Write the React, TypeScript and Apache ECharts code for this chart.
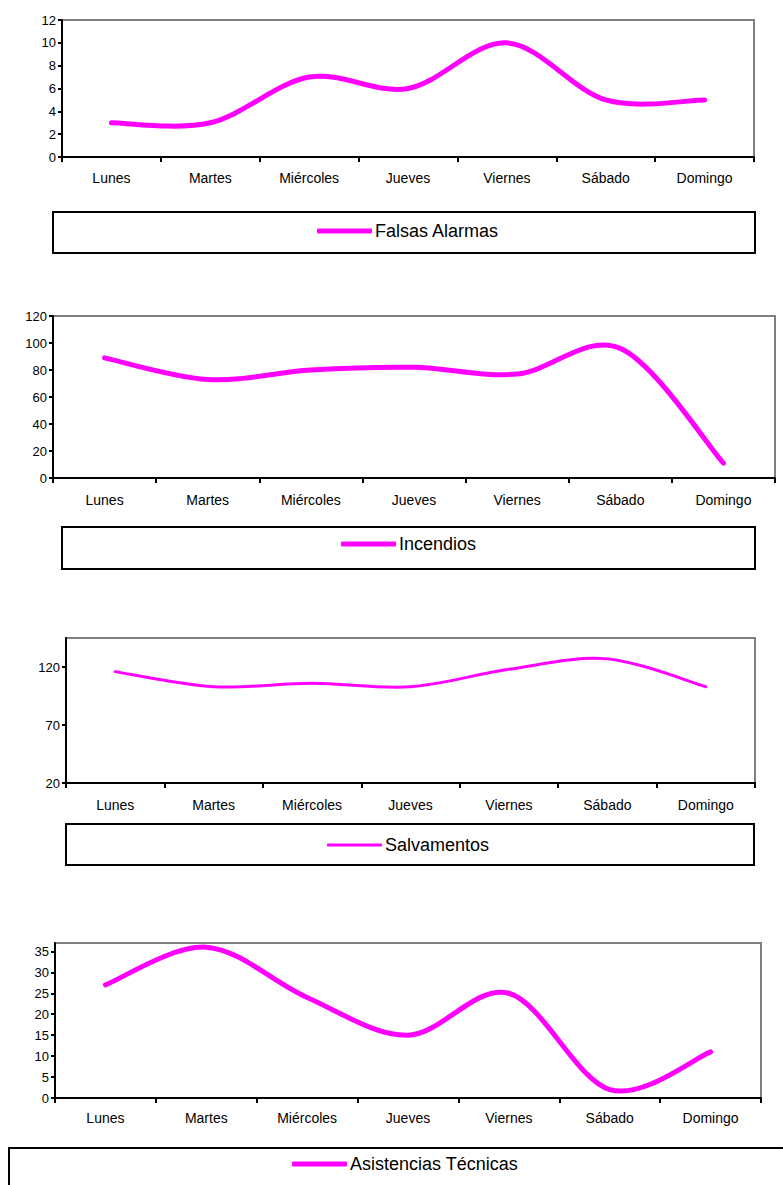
import React, { useEffect, useRef } from "react";
import * as echarts from "echarts";

const days = ["Lunes", "Martes", "Miércoles", "Jueves", "Viernes", "Sábado", "Domingo"];
const falsasAlarmas = [3, 3, 7, 6, 10, 5, 5];
const incendios = [89, 73, 80, 82, 77, 96, 11];
const salvamentos = [116, 103, 106, 103, 118, 127, 103];
const asistencias = [27, 36, 24, 15, 25, 2, 11];

const seriesNames = ["Falsas Alarmas", "Incendios", "Salvamentos", "Asistencias Técnicas"];
const seriesData = [falsasAlarmas, incendios, salvamentos, asistencias];
const yMins = [0, 0, 20, 0];
const yMaxs = [12, 120, 145, 37];
const yIntervals = [2, 20, 50, 5];

const FONT = "'Liberation Sans', Arial, sans-serif";
const MAGENTA = "#FF00FF";

// layout (px)
const grids = [
  { left: 62, top: 20, width: 692, height: 137 },
  { left: 53, top: 316, width: 722, height: 162 },
  { left: 66, top: 638, width: 689, height: 145 },
  { left: 55, top: 943, width: 706, height: 155 },
];
const xLabelMargins = [14, 15, 15, 13];
const lineWidths = [5, 5, 3, 5];
const legendPos = [
  { left: 317, top: 221 },
  { left: 341, top: 534 },
  { left: 327, top: 835 },
  { left: 292, top: 1154 },
];
const boxes = [
  { x: 53, y: 212, width: 702, height: 41 },
  { x: 62, y: 527, width: 693, height: 42 },
  { x: 66, y: 824, width: 688, height: 41 },
  { x: 9, y: 1148, width: 800, height: 60 },
];

// Excel-style smoothed line (Catmull-Rom through the points, converted to Bezier)
function smoothPath(pts: number[][]): string {
  const n = pts.length;
  let d = `M${pts[0][0]},${pts[0][1]}`;
  for (let i = 0; i < n - 1; i++) {
    const p0 = pts[Math.max(0, i - 1)];
    const p1 = pts[i];
    const p2 = pts[i + 1];
    const p3 = pts[Math.min(n - 1, i + 2)];
    const c1x = p1[0] + (p2[0] - p0[0]) / 6;
    const c1y = p1[1] + (p2[1] - p0[1]) / 6;
    const c2x = p2[0] - (p3[0] - p1[0]) / 6;
    const c2y = p2[1] - (p3[1] - p1[1]) / 6;
    d += ` C${c1x},${c1y} ${c2x},${c2y} ${p2[0]},${p2[1]}`;
  }
  return d;
}

export default function App() {
  const ref = useRef<HTMLDivElement>(null);
  useEffect(() => {
    if (!ref.current) return;
    const chart = echarts.init(ref.current, undefined, { renderer: "svg" });
    const option: any = {
      animation: false,
      backgroundColor: "#ffffff",
      grid: grids.map((g) => ({
        ...g,
        show: true,
        borderColor: "#808080",
        borderWidth: 2,
        backgroundColor: "transparent",
        containLabel: false,
        outerBoundsMode: "none",
      })),
      xAxis: grids.map((_, i) => ({
        type: "category",
        gridIndex: i,
        data: days,
        boundaryGap: true,
        axisLine: { show: true, lineStyle: { color: "#000", width: 2 } },
        axisTick: { show: true, length: 5, alignWithLabel: false, lineStyle: { color: "#000", width: 2 } },
        axisLabel: { color: "#000", fontSize: 14, fontFamily: FONT, margin: xLabelMargins[i], interval: 0 },
        splitLine: { show: false },
      })),
      yAxis: grids.map((_, i) => ({
        type: "value",
        gridIndex: i,
        min: yMins[i],
        max: yMaxs[i],
        interval: yIntervals[i],
        axisLine: { show: true, lineStyle: { color: "#000", width: 2 } },
        axisTick: { show: true, length: 4, lineStyle: { color: "#000", width: 2 } },
        axisLabel: { color: "#000", fontSize: 13, fontFamily: FONT, margin: 6, showMaxLabel: i === 0 || i === 1 },
        splitLine: { show: false },
      })),
      legend: seriesNames.map((name, i) => ({
        data: [{ name, itemStyle: { color: MAGENTA } }],
        left: legendPos[i].left,
        top: legendPos[i].top,
        padding: 0,
        icon: "roundRect",
        itemWidth: 55,
        itemHeight: lineWidths[i],
        selectedMode: false,
        textStyle: { color: "#000", fontSize: 18, fontFamily: FONT, lineHeight: 20, padding: [0, 0, 0, -2] },
      })),
      graphic: boxes.map((b) => ({
        type: "rect",
        shape: { x: b.x, y: b.y, width: b.width, height: b.height },
        style: { fill: "transparent", stroke: "#000", lineWidth: 2 },
        z: 0,
        silent: true,
      })),
      series: seriesNames.map((name, i) => {
        const values = seriesData[i];
        return {
          name,
          type: "custom",
          xAxisIndex: i,
          yAxisIndex: i,
          data: values.map((v, j) => [j, v]),
          encode: { x: 0, y: 1 },
          itemStyle: { color: MAGENTA },
          clip: false,
          renderItem: (params: any, api: any) => {
            if (params.dataIndex !== 0) return null;
            const pts = values.map((v, j) => api.coord([j, v]));
            return {
              type: "path",
              shape: { pathData: smoothPath(pts) },
              style: {
                fill: "none",
                stroke: MAGENTA,
                lineWidth: lineWidths[i],
                lineCap: "round",
                lineJoin: "round",
              },
            };
          },
        };
      }),
    };
    chart.setOption(option);
    return () => chart.dispose();
  }, []);
  return (
    <div
      ref={ref}
      style={{ position: "absolute", left: 0, top: 0, width: 783, height: 1185, background: "#fff" }}
    />
  );
}
